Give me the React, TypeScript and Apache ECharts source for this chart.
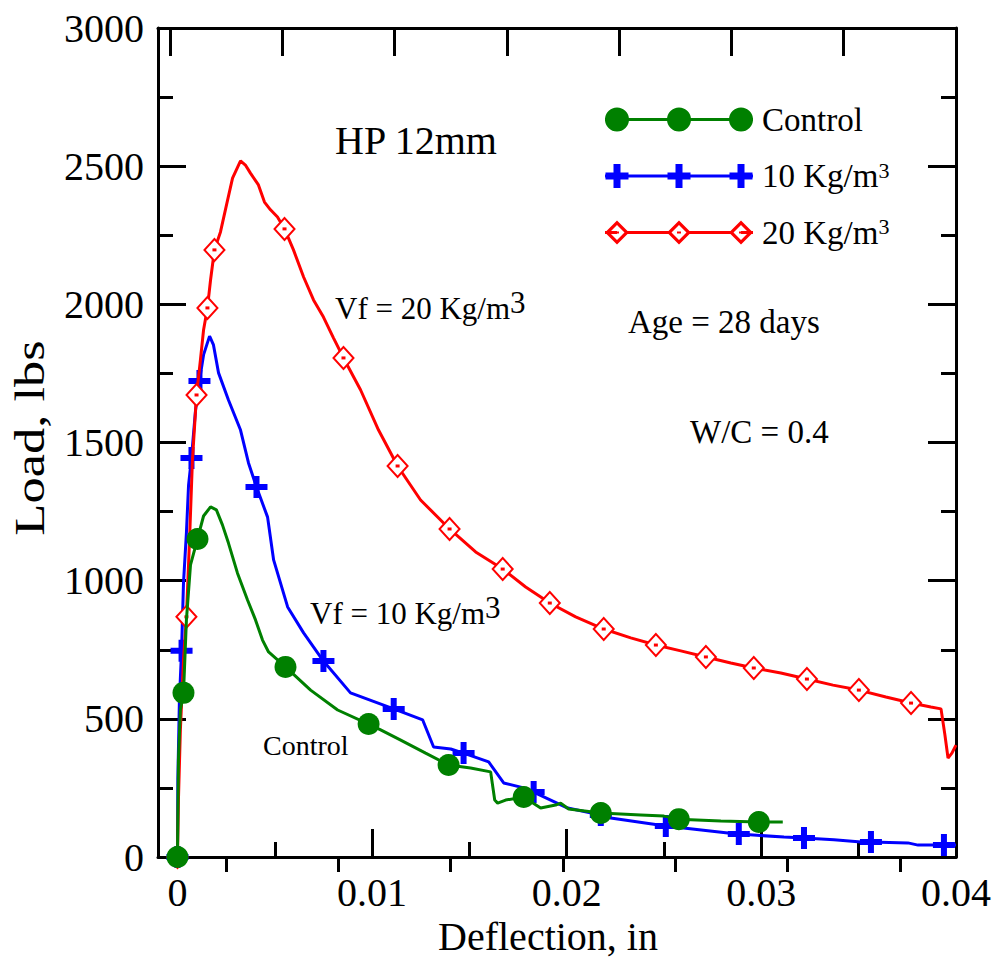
import React, { useEffect, useRef } from "react";
import * as echarts from "echarts";

// ---------- data (deflection in inches, load in lbs) ----------
const controlLine: number[][] = [
  [0, 0], [0.00005, 351], [0.00015, 532], [0.00031, 594], [0.00046, 858], [0.00067, 1057],
  [0.00103, 1151], [0.00134, 1234], [0.0017, 1267], [0.002, 1256], [0.00231, 1202],
  [0.00262, 1136], [0.00308, 1028], [0.0036, 930], [0.00401, 858], [0.00437, 785],
  [0.00468, 742], [0.00555, 688], [0.00684, 604], [0.00823, 532], [0.00982, 481],
  [0.01044, 460], [0.01147, 423], [0.01275, 376], [0.01393, 333], [0.01506, 322],
  [0.01609, 308], [0.0163, 206], [0.01645, 195], [0.01686, 206], [0.01779, 217],
  [0.01866, 177], [0.01943, 188], [0.01969, 195], [0.0201, 174], [0.02175, 159],
  [0.0238, 152], [0.02499, 148], [0.02576, 137], [0.02792, 130], [0.02987, 127], [0.0311, 127],
];
const controlMarks: number[][] = [
  [0, 0], [0.00031, 594], [0.00103, 1151], [0.00555, 688], [0.00982, 481], [0.01393, 333],
  [0.01779, 217], [0.02175, 159], [0.02576, 137], [0.02987, 127],
];

const vf10Line: number[][] = [
  [0, 0], [0.00002, 279], [0.0001, 568], [0.00021, 746], [0.00031, 992], [0.00046, 1173],
  [0.00057, 1346], [0.00072, 1444], [0.00093, 1618], [0.00113, 1723], [0.00134, 1817],
  [0.00165, 1885], [0.00185, 1853], [0.00211, 1752], [0.00262, 1654], [0.00324, 1545],
  [0.00365, 1426], [0.00406, 1339], [0.00463, 1230], [0.00494, 1075], [0.00566, 905],
  [0.00648, 811], [0.0075, 709], [0.00889, 594], [0.01111, 536], [0.0126, 496],
  [0.01316, 398], [0.01404, 391], [0.0147, 376], [0.01599, 344], [0.01676, 268],
  [0.01779, 250], [0.0183, 235], [0.02005, 177], [0.02175, 152], [0.02226, 141],
  [0.02509, 112], [0.02828, 87], [0.02884, 83], [0.03116, 72], [0.03219, 69],
  [0.03373, 62], [0.03512, 54], [0.03563, 54], [0.03753, 51], [0.03805, 43], [0.03938, 43], [0.04, 43],
];
const vf10Marks: number[][] = [
  [0, 0], [0.00021, 746], [0.00072, 1444], [0.00113, 1723], [0.00406, 1339], [0.0075, 709],
  [0.01111, 536], [0.0147, 376], [0.0183, 235], [0.02175, 152], [0.02509, 112],
  [0.02884, 83], [0.03219, 69], [0.03563, 54], [0.03938, 43],
];

const vf20Line: number[][] = [
  [0, 0], [0.00005, 206], [0.00015, 460], [0.00031, 713], [0.00046, 869], [0.00062, 1147],
  [0.00077, 1437], [0.00098, 1672], [0.00118, 1799], [0.00134, 1907], [0.00154, 1987],
  [0.0017, 2088], [0.0019, 2197], [0.00221, 2262], [0.00252, 2360], [0.00283, 2457],
  [0.00324, 2519], [0.00349, 2504], [0.00375, 2475], [0.00416, 2432], [0.00447, 2370],
  [0.00478, 2342], [0.00514, 2316], [0.0055, 2273], [0.00596, 2197], [0.00648, 2099],
  [0.00699, 2016], [0.0075, 1954], [0.00802, 1878], [0.00853, 1806], [0.00941, 1690],
  [0.01033, 1545], [0.01131, 1415], [0.01249, 1292], [0.01398, 1187], [0.01532, 1104],
  [0.01671, 1042], [0.01789, 977], [0.01913, 919], [0.02046, 869], [0.0219, 825],
  [0.02329, 793], [0.02458, 767], [0.02586, 746], [0.02715, 724], [0.02843, 702],
  [0.02961, 684], [0.031, 666], [0.03234, 644], [0.03368, 622], [0.03501, 604],
  [0.0364, 579], [0.03769, 557], [0.03871, 543], [0.03923, 536], [0.03943, 442],
  [0.03959, 358], [0.03979, 376], [0.04, 405],
];
const vf20Marks: number[][] = [
  [0, 0], [0.00046, 869], [0.00098, 1672], [0.00154, 1987], [0.0019, 2197], [0.0055, 2273],
  [0.00853, 1806], [0.01131, 1415], [0.01398, 1187], [0.01671, 1042], [0.01913, 919],
  [0.0219, 825], [0.02458, 767], [0.02715, 724], [0.02961, 684], [0.03234, 644],
  [0.03501, 604], [0.03769, 557],
];

const seriesNames = ["Control", "10 Kg/m3", "20 Kg/m3"];
const xMajorTicks = [0, 0.01, 0.02, 0.03, 0.04];
const xMinorTicks = [0.005, 0.015, 0.025, 0.035];
const topMajorTicks = [0, 1, 2, 3, 4, 5, 6, 7];
const topMinorTicks = [0.5, 1.5, 2.5, 3.5, 4.5, 5.5, 6.5];

const FONT = '"Liberation Serif", "Times New Roman", Times, serif';
const GREEN = "#008000";
const BLUE = "#0000ff";
const RED = "#ff0000";

const PLUS = "path://M8,0H14V8H22V14H14V22H8V14H0V8H8Z";

// legend icons (148 x 24 box)
const circ = (cx: number) => `M${cx - 12},12a12,12 0 1,1 24,0a12,12 0 1,1 -24,0Z`;
const plus = (cx: number) =>
  `M${cx - 3.5},0H${cx + 3.5}V8.5H${cx + 11.5}V15.5H${cx + 3.5}V24H${cx - 3.5}V15.5H${cx - 11.5}V8.5H${cx - 3.5}Z`;
const diam = (cx: number) =>
  `M${cx},0L${cx + 12},12L${cx},24L${cx - 12},12ZM${cx},4.5L${cx - 7.5},12L${cx},19.5L${cx + 7.5},12ZM${cx - 2},11H${cx + 2}V13H${cx - 2}Z`;
const lineRect = "M0,10.5H148V13.5H0Z";
const iconControl = "path://" + lineRect + [12, 74, 136].map(circ).join("");
const iconV10 = "path://" + lineRect + [12, 74, 136].map(plus).join("");
const iconV20 =
  "path://" +
  "M0,10.5H12V13.5H0ZM22,10.5H64V13.5H22ZM84,10.5H126V13.5H84ZM136,10.5H148V13.5H136Z" +
  [12, 74, 136].map(diam).join("");

const supText = (label: string, x: number, y: number) => ({
  type: "text", x, y,
  style: {
    text: `{a|${label}}{b|3}`, fill: "#000", textVerticalAlign: "middle", verticalAlign: "middle",
    rich: {
      a: { fontSize: 31, fontFamily: FONT, color: "#000", verticalAlign: "bottom", lineHeight: 37 },
      b: { fontSize: 31, fontFamily: FONT, color: "#000", verticalAlign: "top", lineHeight: 31 },
    },
  },
});

export default function App() {
  const ref = useRef<HTMLDivElement>(null);
  useEffect(() => {
    if (!ref.current) return;
    const chart = echarts.init(ref.current, undefined, { renderer: "svg" });
    const axisLineStyle = { color: "#000", width: 3 };
    const tickStyle = { color: "#000", width: 3 };
    const option: any = {
      animation: false,
      backgroundColor: "#fff",
      grid: { left: 158, right: 40, top: 28, bottom: 107, containLabel: false, outerBoundsMode: "none" },
      xAxis: [
        {
          type: "value", position: "bottom", min: -0.001, max: 0.04,
          axisLine: { show: true, onZero: false, lineStyle: axisLineStyle },
          axisTick: { show: true, inside: true, length: 28, lineStyle: tickStyle, customValues: xMajorTicks },
          axisLabel: { show: true, customValues: xMajorTicks, fontSize: 40, fontFamily: FONT, color: "#000", margin: 15, formatter: (v: number) => String(+v.toFixed(3)) },
          splitLine: { show: false },
          name: "Deflection, in", nameLocation: "middle", nameGap: 57,
          nameTextStyle: { fontSize: 40, fontFamily: FONT, color: "#000", padding: [0, 18, 0, 0] },
        },
        {
          type: "value", position: "bottom", min: -0.001, max: 0.04,
          axisLine: { show: false },
          axisTick: { show: true, inside: true, length: 15, lineStyle: tickStyle, customValues: xMinorTicks },
          axisLabel: { show: false }, splitLine: { show: false },
        },
        {
          type: "value", position: "top", min: -0.107, max: 7,
          axisLine: { show: true, onZero: false, lineStyle: axisLineStyle },
          axisTick: { show: true, inside: true, length: 28, lineStyle: tickStyle, customValues: topMajorTicks },
          axisLabel: { show: false }, splitLine: { show: false },
        },
        {
          type: "value", position: "top", min: -0.107, max: 7,
          axisLine: { show: false },
          axisTick: { show: true, inside: true, length: 15, lineStyle: tickStyle, customValues: topMinorTicks },
          axisLabel: { show: false }, splitLine: { show: false },
        },
      ],
      yAxis: [
        {
          type: "value", position: "left", min: 0, max: 3000, interval: 500,
          axisLine: { show: true, onZero: false, lineStyle: axisLineStyle },
          axisTick: { show: true, inside: true, length: 28, lineStyle: tickStyle },
          minorTick: { show: true, splitNumber: 2, length: 15, lineStyle: tickStyle },
          axisLabel: { fontSize: 40, fontFamily: FONT, color: "#000", margin: 14, formatter: (v: number) => String(v) },
          splitLine: { show: false },
        },
        {
          type: "value", position: "right", min: 0, max: 3000, interval: 500,
          axisLine: { show: true, onZero: false, lineStyle: axisLineStyle },
          axisTick: { show: true, inside: true, length: 28, lineStyle: tickStyle },
          minorTick: { show: true, splitNumber: 2, length: 15, lineStyle: tickStyle },
          axisLabel: { show: false }, splitLine: { show: false },
        },
      ],
      legend: {
        orient: "vertical", left: 600, top: 98, itemWidth: 148, itemHeight: 24, itemGap: 23,
        data: [
          { name: seriesNames[0], icon: iconControl, itemStyle: { color: GREEN, borderWidth: 0 } },
          { name: seriesNames[1], icon: iconV10, itemStyle: { color: BLUE, borderWidth: 0 } },
          { name: seriesNames[2], icon: iconV20, itemStyle: { color: RED, borderWidth: 0 } },
        ],
        formatter: (name: string) => (name.endsWith("m3") ? name.slice(0, -1) + "{sup|3}" : name),
        textStyle: {
          fontSize: 33, fontFamily: FONT, color: "#000", padding: [0, 0, 0, 4],
          rich: { sup: { fontSize: 22, fontFamily: FONT, color: "#000", verticalAlign: "top", padding: [0, 0, 12, 0] } },
        },
      },
      graphic: [
        {
          type: "text", x: 30, y: 438, rotation: Math.PI / 2, scaleX: 1.25, scaleY: 1,
          style: { text: "Load, lbs", font: `42px ${FONT}`, fill: "#000", textAlign: "center", align: "center", textVerticalAlign: "middle", verticalAlign: "middle" },
        },
        { type: "text", x: 335, y: 140, style: { text: "HP 12mm", font: `40px ${FONT}`, fill: "#000", textVerticalAlign: "middle", verticalAlign: "middle" } },
        supText("Vf = 20 Kg/m", 335, 305),
        supText("Vf = 10 Kg/m", 310, 610),
        { type: "text", x: 628, y: 322, style: { text: "Age = 28 days", font: `33px ${FONT}`, fill: "#000", textVerticalAlign: "middle", verticalAlign: "middle" } },
        { type: "text", x: 690, y: 432, style: { text: "W/C = 0.4", font: `33px ${FONT}`, fill: "#000", textVerticalAlign: "middle", verticalAlign: "middle" } },
        { type: "text", x: 263, y: 745, style: { text: "Control", font: `28px ${FONT}`, fill: "#000", textVerticalAlign: "middle", verticalAlign: "middle" } },
      ],
      series: [
        { name: seriesNames[1], type: "line", data: vf10Line, showSymbol: false, symbol: "none", color: BLUE, lineStyle: { color: BLUE, width: 3 }, z: 2 },
        { name: "vf10marks", type: "scatter", data: vf10Marks, symbol: PLUS, symbolSize: 22, itemStyle: { color: BLUE, opacity: 1 }, z: 3 },
        { name: seriesNames[2], type: "line", data: vf20Line, showSymbol: false, symbol: "none", color: RED, lineStyle: { color: RED, width: 3 }, z: 4 },
        { name: "vf20marks", type: "scatter", data: vf20Marks, symbol: "emptyDiamond", symbolSize: [20, 22], itemStyle: { color: RED, borderColor: RED, borderWidth: 3.5, opacity: 1 }, z: 5 },
        { name: "vf20dots", type: "scatter", data: vf20Marks, symbol: "rect", symbolSize: [4, 3], itemStyle: { color: RED, opacity: 1 }, z: 6 },
        { name: seriesNames[0], type: "line", data: controlLine, showSymbol: false, symbol: "none", color: GREEN, lineStyle: { color: GREEN, width: 3 }, z: 7 },
        { name: "controlmarks", type: "scatter", data: controlMarks, symbol: "circle", symbolSize: 22, itemStyle: { color: GREEN, opacity: 1 }, z: 8 },
      ],
    };
    chart.setOption(option);
    return () => chart.dispose();
  }, []);
  return <div ref={ref} style={{ position: "fixed", left: 0, top: 0, width: 996, height: 964, background: "#fff" }} />;
}
